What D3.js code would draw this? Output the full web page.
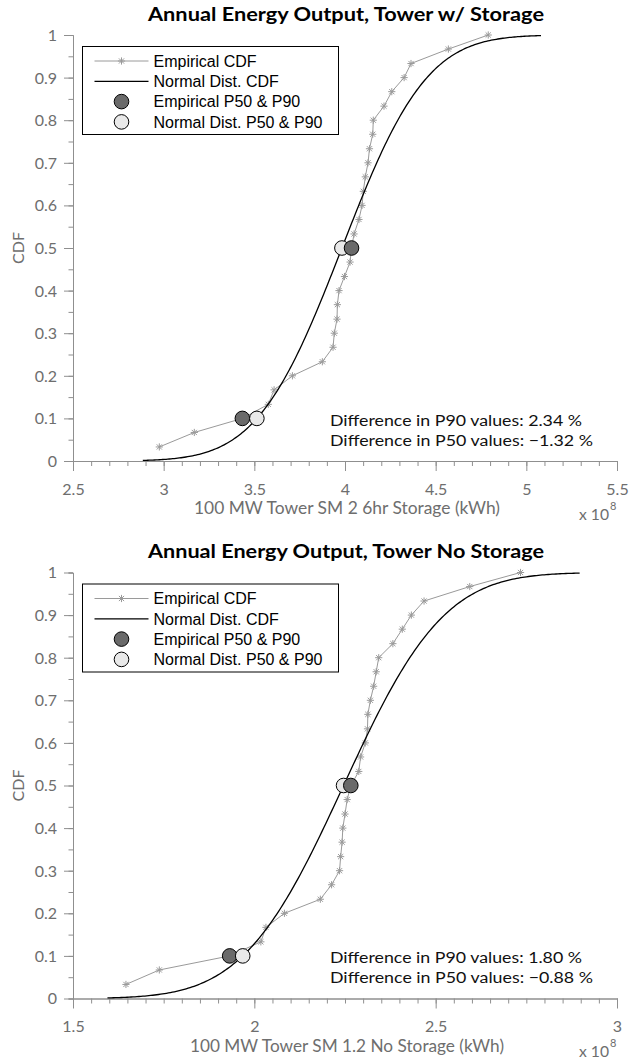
<!DOCTYPE html>
<html>
<head>
<meta charset="utf-8">
<script src="https://cdn.jsdelivr.net/npm/d3@7"></script>
<style>
body{margin:0;background:#fff;}
svg{display:block;}
</style>
</head>
<body>
<svg id="svg" width="629" height="1061"></svg>
<script>
// empirical CDF levels (30 years)
var cdfLevels = [0.033,0.067,0.1,0.133,0.167,0.2,0.233,0.267,0.3,0.333,0.367,0.4,0.433,0.467,0.5,
	0.533,0.567,0.6,0.633,0.667,0.7,0.733,0.767,0.8,0.833,0.867,0.9,0.933,0.967,1];

// annual output x 10^8 kWh, sorted
var storageOutput = [2.976,3.169,3.434,3.577,3.609,3.71,3.875,3.934,3.941,3.956,3.958,3.967,3.997,4.028,4.036,
	4.05,4.077,4.094,4.101,4.112,4.127,4.135,4.153,4.156,4.215,4.258,4.326,4.364,4.57,4.79];
var noStorageOutput = [1.646,1.738,1.932,2.018,2.032,2.083,2.182,2.213,2.235,2.238,2.242,2.244,2.25,2.256,2.266,
	2.288,2.293,2.306,2.312,2.313,2.32,2.329,2.336,2.343,2.382,2.408,2.433,2.468,2.594,2.734];

// [mean, sigma] of the fitted normal
var storageNormal = [3.983,0.366];
var noStorageNormal = [2.246,0.217];

// P90 / P50 levels and values [P90, P50]
var pLevels = [0.1,0.5];
var storageEmpP = [3.434,4.036];
var storageNormP = [3.514,3.983];
var noStorageEmpP = [1.932,2.266];
var noStorageNormP = [1.968,2.246];

var storageXTicks = [2.5,3,3.5,4,4.5,5,5.5];
var noStorageXTicks = [1.5,2,2.5,3];
var yTicks = [0,0.1,0.2,0.3,0.4,0.5,0.6,0.7,0.8,0.9,1];

var titles = ["Annual Energy Output, Tower w/ Storage","Annual Energy Output, Tower No Storage"];
var xLabels = ["100 MW Tower SM 2 6hr Storage (kWh)","100 MW Tower SM 1.2 No Storage (kWh)"];
var diffTexts = [
	["Difference in P90 values: 2.34 %","Difference in P50 values: \u22121.32 %"],
	["Difference in P90 values: 1.80 %","Difference in P50 values: \u22120.88 %"]
];
var legendLabels = ["Empirical CDF","Normal Dist. CDF","Empirical P50 & P90","Normal Dist. P50 & P90"];

var gothic = "Lato, 'DejaVu Sans', sans-serif",
	arial = "'Liberation Sans', Arial, sans-serif",
	axisColor = "#8f8f8f", labelColor = "#6e6e6e", empColor = "#9a9a9a",
	darkFill = "#6a6a6a", lightFill = "#e9e9e9";

var svg = d3.select("#svg");

function erf(v){
	var s = v < 0 ? -1 : 1; v = Math.abs(v);
	var t = 1/(1+0.3275911*v);
	var yv = 1-(((((1.061405429*t-1.453152027)*t)+1.421413741)*t-0.284496736)*t+0.254829592)*t*Math.exp(-v*v);
	return s*yv;
}
function normCdf(v,mu,sd){ return 0.5*(1+erf((v-mu)/(sd*Math.SQRT2))); }

function starPath(s){
	var k = s*0.72;
	return "M"+(-s)+",0H"+s+"M0,"+(-s)+"V"+s+"M"+(-k)+","+(-k)+"L"+k+","+k+"M"+(-k)+","+k+"L"+k+","+(-k);
}

function drawPanel(i, offY, xDomain, xTicks, output, normal, empP, normP){
	var g = svg.append("g").attr("transform","translate(0,"+offY+")");
	var x = d3.scaleLinear().domain(xDomain).range([73,617]);
	var y = d3.scaleLinear().domain([0,1]).range([461,35]);

	// minor ticks first
	var yMinor = g.append("g").attr("transform","translate(73,0)")
		.call(d3.axisLeft(y).tickValues(y.ticks(20)).tickSize(4.5).tickFormat(""));
	var xMinor = g.append("g").attr("transform","translate(0,461)")
		.call(d3.axisBottom(x).tickValues(x.ticks(30)).tickSize(5).tickFormat(""));
	var yAxis = g.append("g").attr("transform","translate(73,0)")
		.call(d3.axisLeft(y).tickValues(yTicks).tickSize(9).tickSizeOuter(0).tickPadding(7).tickFormat(d3.format("~g")));
	var xAxis = g.append("g").attr("transform","translate(0,461)")
		.call(d3.axisBottom(x).tickValues(xTicks).tickSize(10).tickSizeOuter(0).tickFormat(d3.format("~g")));
	[yMinor,xMinor,yAxis,xAxis].forEach(function(a){
		a.selectAll("path,line").attr("stroke",axisColor);
	});
	yAxis.selectAll("text").attr("font-family",gothic).attr("font-size",16).attr("fill",labelColor).attr("dy","0.34em");
	xAxis.selectAll("text").attr("font-family",gothic).attr("font-size",16).attr("fill",labelColor)
		.attr("y",33.5).attr("dy",0);

	// empirical cdf
	var pts = d3.zip(output,cdfLevels);
	g.append("path").datum(pts)
		.attr("d",d3.line().x(function(d){return x(d[0]);}).y(function(d){return y(d[1]);}))
		.attr("fill","none").attr("stroke",empColor).attr("stroke-width",1);
	g.selectAll(".star").data(pts).enter().append("path").attr("class","star")
		.attr("transform",function(d){return "translate("+x(d[0])+","+y(d[1])+")";})
		.attr("d",starPath(3.6)).attr("stroke",empColor).attr("stroke-width",1).attr("fill","none");

	// normal fit over mean +/- 3 sigma
	var lo = normal[0]-3*normal[1], hi = normal[0]+3*normal[1];
	var curve = d3.range(0,241).map(function(k){
		var v = lo+(hi-lo)*k/240;
		return [v,normCdf(v,normal[0],normal[1])];
	});
	g.append("path").datum(curve)
		.attr("d",d3.line().x(function(d){return x(d[0]);}).y(function(d){return y(d[1]);}))
		.attr("fill","none").attr("stroke","#000").attr("stroke-width",1.3);

	// P50 / P90 markers
	var marks = [[normP[1],pLevels[1],lightFill],[empP[1],pLevels[1],darkFill],
		[empP[0],pLevels[0],darkFill],[normP[0],pLevels[0],lightFill]];
	g.selectAll(".pm").data(marks).enter().append("circle").attr("class","pm")
		.attr("cx",function(d){return x(d[0]);}).attr("cy",function(d){return y(d[1]);})
		.attr("r",7.3).attr("fill",function(d){return d[2];}).attr("stroke","#000").attr("stroke-width",1);

	// title and labels
	g.append("text").attr("x",346).attr("y",20.5).attr("text-anchor","middle")
		.attr("font-family",gothic).attr("font-weight","bold").attr("font-size",18.5)
		.attr("textLength",396).attr("lengthAdjust","spacingAndGlyphs").text(titles[i]);
	g.append("text").attr("x",347).attr("y",514).attr("text-anchor","middle")
		.attr("font-family",gothic).attr("font-size",16.5).attr("fill",labelColor)
		.attr("textLength",i ? 314 : 306).attr("lengthAdjust","spacingAndGlyphs").text(xLabels[i]);
	var exp = g.append("text").attr("x",579).attr("y",519.5)
		.attr("font-family",gothic).attr("font-size",15).attr("fill",labelColor);
	exp.append("tspan").attr("textLength",30).attr("lengthAdjust","spacingAndGlyphs").text("x 10");
	exp.append("tspan").attr("dx",1).attr("dy",-10).attr("font-size",11).text("8");
	g.append("text").attr("transform","translate(23.5,248) rotate(-90)").attr("text-anchor","middle")
		.attr("font-family",gothic).attr("font-size",16).attr("fill",labelColor).text("CDF");
	g.selectAll(".diff").data(diffTexts[i]).enter().append("text").attr("class","diff")
		.attr("x",330).attr("y",function(d,k){return 425.5+k*20;})
		.attr("font-family",gothic).attr("font-size",15.5).attr("fill","#111")
		.attr("textLength",function(d,k){return k ? 263 : 252;}).attr("lengthAdjust","spacingAndGlyphs")
		.text(function(d){return d;});

	// legend
	var lg = g.append("g").attr("transform","translate(82.5,46.5)");
	lg.append("rect").attr("width",256).attr("height",88).attr("fill","#fff").attr("stroke","#000").attr("stroke-width",1);
	var row = function(k){return 14.5+k*20.3;};
	lg.append("line").attr("x1",12).attr("x2",66).attr("y1",row(0)).attr("y2",row(0)).attr("stroke",empColor);
	lg.append("path").attr("transform","translate(39,"+row(0)+")").attr("d",starPath(3.6))
		.attr("stroke",empColor).attr("fill","none");
	lg.append("line").attr("x1",12).attr("x2",66).attr("y1",row(1)).attr("y2",row(1)).attr("stroke","#000").attr("stroke-width",1.3);
	lg.append("circle").attr("cx",39).attr("cy",row(2)).attr("r",7.3).attr("fill",darkFill).attr("stroke","#000");
	lg.append("circle").attr("cx",39).attr("cy",row(3)).attr("r",7.3).attr("fill",lightFill).attr("stroke","#000");
	lg.selectAll(".lt").data(legendLabels).enter().append("text").attr("class","lt")
		.attr("x",71).attr("y",function(d,k){return row(k);}).attr("dy","0.36em")
		.attr("font-family",arial).attr("font-size",16).attr("fill","#000")
		.text(function(d){return d;});
}

drawPanel(0,0,[2.5,5.5],storageXTicks,storageOutput,storageNormal,storageEmpP,storageNormP);
drawPanel(1,537.5,[1.5,3],noStorageXTicks,noStorageOutput,noStorageNormal,noStorageEmpP,noStorageNormP);
</script>
</body>
</html>
